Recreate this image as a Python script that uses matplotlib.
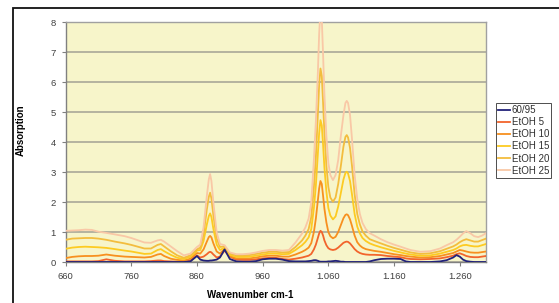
import matplotlib
matplotlib.use("Agg")
import matplotlib.pyplot as plt
from matplotlib.patches import Rectangle

plt.rcParams['font.family'] = ['Liberation Sans', 'DejaVu Sans']

wavenumber = [660, 670, 680, 690, 700, 710, 722, 735, 750, 760, 780, 790, 800, 805, 810, 820, 830, 840, 850,
              860, 865, 870, 875, 878, 880, 882, 885, 890, 895, 902, 910,
              920, 930, 940, 950, 960, 970, 980, 990, 1000,
              1010, 1020, 1025, 1030, 1034, 1038, 1041, 1044, 1046, 1048, 1050, 1052, 1054, 1057, 1060, 1063, 1067,
              1071, 1075, 1079, 1083, 1086, 1088, 1090, 1093, 1096, 1100, 1104, 1108, 1112, 1117, 1123, 1130,
              1140, 1150, 1160, 1170, 1178, 1185, 1200, 1215, 1230, 1240, 1250, 1255, 1260, 1265, 1270, 1276, 1282, 1288, 1294, 1300]

s_6095 = [0, 0, 0, 0, 0, 0, 0, 0, 0, 0, 0, 0, 0, 0, 0, 0, 0, 0, 0.02,
          0.20, 0.08, 0.05, 0.04, 0.04, 0.05, 0.05, 0.06, 0.08, 0.15, 0.42, 0.10,
          0.02, 0.01, 0.01, 0.03, 0.09, 0.11, 0.11, 0.08, 0.03,
          0.02, 0.02, 0.02, 0.03, 0.04, 0.06, 0.06, 0.04, 0.02, 0.01, 0.01, 0.01, 0.01, 0.01, 0.02, 0.02, 0.03,
          0.04, 0.03, 0.01, 0.01, 0.0, 0.0, 0.0, 0.0, 0.0, 0.0, 0.0, 0.0, 0.0, 0.0, 0.02, 0.06,
          0.10, 0.11, 0.11, 0.10, 0.02, 0.0, 0.0, 0.0, 0.02, 0.06, 0.15, 0.23, 0.18, 0.08, 0.03, 0.01, 0.0, 0.0, 0.0, 0.0]

s_etoh5 = [0.02, 0.02, 0.02, 0.02, 0.02, 0.03, 0.09, 0.04, 0.02, 0.02, 0.02, 0.03, 0.05, 0.05, 0.03, 0.02, 0.01, 0.01, 0.05,
           0.22, 0.15, 0.18, 0.26, 0.32, 0.34, 0.32, 0.25, 0.15, 0.18, 0.38, 0.18,
           0.08, 0.07, 0.07, 0.09, 0.12, 0.14, 0.14, 0.10, 0.08,
           0.11, 0.15, 0.18, 0.21, 0.27, 0.42, 0.58, 0.80, 0.95, 1.04, 1.00, 0.88, 0.72, 0.56, 0.46, 0.42, 0.40,
           0.42, 0.48, 0.56, 0.64, 0.67, 0.68, 0.67, 0.62, 0.54, 0.43, 0.35, 0.30, 0.27, 0.25, 0.24, 0.24,
           0.23, 0.20, 0.18, 0.16, 0.12, 0.10, 0.09, 0.10, 0.12, 0.16, 0.21, 0.26, 0.29, 0.25, 0.20, 0.17, 0.16, 0.16, 0.18, 0.20]

s_etoh10 = [0.13, 0.17, 0.19, 0.20, 0.20, 0.21, 0.25, 0.21, 0.18, 0.17, 0.15, 0.17, 0.25, 0.27, 0.20, 0.11, 0.07, 0.05, 0.11,
            0.30, 0.28, 0.42, 0.68, 0.83, 0.87, 0.82, 0.62, 0.35, 0.28, 0.44, 0.20,
            0.12, 0.12, 0.12, 0.15, 0.19, 0.21, 0.21, 0.18, 0.18,
            0.25, 0.34, 0.40, 0.48, 0.63, 1.00, 1.45, 2.05, 2.45, 2.70, 2.60, 2.20, 1.78, 1.32, 1.00, 0.86, 0.79,
            0.84, 1.00, 1.23, 1.46, 1.57, 1.59, 1.56, 1.42, 1.20, 0.88, 0.66, 0.55, 0.48, 0.43, 0.40, 0.37,
            0.34, 0.30, 0.26, 0.23, 0.20, 0.18, 0.15, 0.16, 0.20, 0.25, 0.30, 0.35, 0.40, 0.38, 0.35, 0.32, 0.31, 0.31, 0.33, 0.35]

s_etoh15 = [0.44, 0.48, 0.50, 0.51, 0.50, 0.49, 0.47, 0.43, 0.38, 0.35, 0.27, 0.28, 0.40, 0.43, 0.36, 0.24, 0.14, 0.10, 0.17,
            0.38, 0.40, 0.70, 1.25, 1.53, 1.62, 1.50, 1.10, 0.58, 0.40, 0.48, 0.24,
            0.17, 0.17, 0.18, 0.21, 0.25, 0.28, 0.28, 0.26, 0.27,
            0.40, 0.56, 0.67, 0.82, 1.10, 1.80, 2.55, 3.60, 4.30, 4.73, 4.55, 3.90, 3.15, 2.35, 1.80, 1.55, 1.42,
            1.52, 1.85, 2.30, 2.75, 2.97, 3.01, 2.95, 2.70, 2.25, 1.60, 1.18, 0.95, 0.80, 0.70, 0.62, 0.56,
            0.49, 0.43, 0.37, 0.32, 0.28, 0.25, 0.21, 0.22, 0.28, 0.34, 0.40, 0.45, 0.52, 0.56, 0.57, 0.54, 0.52, 0.52, 0.56, 0.60]

s_etoh20 = [0.74, 0.78, 0.79, 0.80, 0.80, 0.78, 0.74, 0.68, 0.62, 0.57, 0.45, 0.45, 0.57, 0.60, 0.52, 0.36, 0.22, 0.14, 0.22,
            0.42, 0.48, 0.92, 1.75, 2.17, 2.31, 2.12, 1.55, 0.78, 0.50, 0.52, 0.28,
            0.22, 0.22, 0.23, 0.27, 0.31, 0.34, 0.34, 0.32, 0.33,
            0.50, 0.72, 0.88, 1.10, 1.50, 2.50, 3.50, 4.90, 5.90, 6.45, 6.20, 5.30, 4.30, 3.20, 2.50, 2.15, 2.01,
            2.15, 2.60, 3.20, 3.85, 4.17, 4.23, 4.15, 3.80, 3.20, 2.25, 1.60, 1.25, 1.02, 0.88, 0.76, 0.70,
            0.62, 0.54, 0.47, 0.41, 0.36, 0.32, 0.27, 0.29, 0.36, 0.44, 0.52, 0.58, 0.66, 0.72, 0.76, 0.72, 0.68, 0.68, 0.73, 0.78]

s_etoh25 = [1.04, 1.05, 1.06, 1.08, 1.07, 1.01, 0.97, 0.92, 0.86, 0.80, 0.65, 0.64, 0.72, 0.74, 0.68, 0.52, 0.36, 0.22, 0.28,
            0.50, 0.58, 1.15, 2.20, 2.75, 2.93, 2.70, 1.98, 0.98, 0.60, 0.56, 0.32,
            0.26, 0.26, 0.28, 0.32, 0.37, 0.40, 0.40, 0.38, 0.40,
            0.65, 0.95, 1.15, 1.45, 2.00, 3.40, 4.70, 6.30, 7.60, 8.40, 8.10, 6.90, 5.60, 4.20, 3.30, 2.90, 2.73,
            2.90, 3.40, 4.20, 4.90, 5.30, 5.37, 5.30, 4.90, 4.10, 2.90, 2.10, 1.60, 1.30, 1.10, 0.96, 0.88,
            0.76, 0.66, 0.58, 0.51, 0.45, 0.40, 0.34, 0.36, 0.45, 0.56, 0.66, 0.74, 0.84, 0.95, 1.03, 0.96, 0.86, 0.83, 0.88, 0.96]

series_names = ["60/95", "EtOH 5", "EtOH 10", "EtOH 15", "EtOH 20", "EtOH 25"]
series_values = [s_6095, s_etoh5, s_etoh10, s_etoh15, s_etoh20, s_etoh25]
series_colors = ["#22227a", "#f2642c", "#f7901f", "#fdcb22", "#f3bd3e", "#f9c8a6"]

x_ticks = [660, 760, 860, 960, 1060, 1160, 1260]
x_tick_labels = ["660", "760", "860", "960", "1.060", "1.160", "1.260"]
y_ticks = [0, 1, 2, 3, 4, 5, 6, 7, 8]

W, H = 559, 303
fig = plt.figure(figsize=(W / 100, H / 100), dpi=100)
fig.patch.set_facecolor("white")

ax_l, ax_r, ax_t, ax_b = 65.6, 486, 22, 262
ax = fig.add_axes([ax_l / W, (H - ax_b) / H, (ax_r - ax_l) / W, (ax_b - ax_t) / H])
ax.set_facecolor("#f7f5ca")

lines = []
for i, (name, vals, col) in enumerate(zip(series_names, series_values, series_colors)):
    z = 10 if i == 0 else 3 + i
    ln, = ax.plot(wavenumber, vals, color=col, lw=1.3, label=name, zorder=z, solid_joinstyle="round")
    lines.append(ln)

ax.set_xlim(660, 1300)
ax.set_ylim(0, 8)
ax.set_yticks(y_ticks)
ax.set_xticks(x_ticks)
ax.set_xticklabels(x_tick_labels)
ax.grid(axis="y", color="#a3a194", lw=1.1, zorder=1)
ax.set_axisbelow(True)
for s in ax.spines.values():
    s.set_color("#a0a0a0")
    s.set_linewidth(1.0)
ax.spines["left"].set_color("#808080")
ax.spines["bottom"].set_color("#808080")
ax.tick_params(axis="both", colors="#808080", labelcolor="#404040", labelsize=6.8, length=3, width=0.8)
ax.tick_params(axis="x", pad=4)
ax.tick_params(axis="y", pad=4)

ax.set_xlabel("Wavenumber cm-1", fontsize=7, fontweight="bold")
ax.xaxis.set_label_coords(0.44, -28 / (ax_b - ax_t))
ax.set_ylabel("Absorption", fontsize=7, fontweight="bold")
ax.yaxis.set_label_coords(-40 / (ax_r - ax_l), 0.55)

leg = fig.legend(handles=lines, labels=series_names, loc="upper left",
                 bbox_to_anchor=(496 / W, (H - 103) / H), fontsize=7, frameon=True,
                 fancybox=False, borderpad=0.2, labelspacing=0.22, handlelength=1.2,
                 handletextpad=0.2, borderaxespad=0)
leg.get_frame().set_edgecolor("#202020")
leg.get_frame().set_linewidth(0.7)
for t in leg.get_texts():
    t.set_color("#303030")

frame = Rectangle((13 / W, -0.05), 1.0, (H - 8) / H + 0.05, transform=fig.transFigure,
                  fill=False, edgecolor="#111111", lw=1.3)
fig.add_artist(frame)

fig.savefig("out.png", dpi=100)
